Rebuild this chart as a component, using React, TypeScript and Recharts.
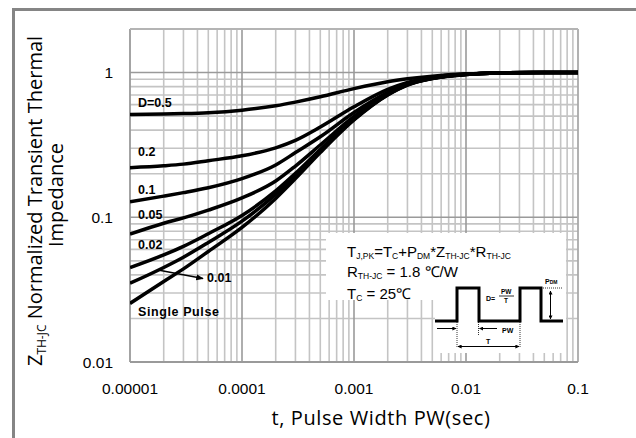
import React from 'react';
import { LineChart, Line, XAxis, YAxis, ReferenceLine } from 'recharts';

// ---------- data ----------
const tValues = [1e-5, 2e-5, 3e-5, 5e-5, 1e-4, 2e-4, 3e-4, 5e-4, 1e-3, 2e-3, 3e-3, 5e-3, 1e-2, 2e-2, 5e-2, 1e-1];
const singlePulse = [0.0254, 0.036, 0.044, 0.058, 0.085, 0.135, 0.185, 0.28, 0.47, 0.7, 0.82, 0.91, 0.97, 0.993, 1.0, 1.0];
const duty001 = [0.035, 0.045, 0.053, 0.067, 0.094, 0.144, 0.193, 0.287, 0.475, 0.703, 0.822, 0.911, 0.97, 0.993, 1.0, 1.0];
const duty002 = [0.0449, 0.055, 0.063, 0.077, 0.103, 0.152, 0.201, 0.294, 0.48, 0.706, 0.824, 0.912, 0.971, 0.993, 1.0, 1.0];
const duty005 = [0.0765, 0.091, 0.099, 0.112, 0.136, 0.178, 0.226, 0.316, 0.497, 0.715, 0.829, 0.915, 0.972, 0.993, 1.0, 1.0];
const duty01 = [0.128, 0.14, 0.148, 0.16, 0.185, 0.23, 0.28, 0.36, 0.53, 0.73, 0.838, 0.919, 0.973, 0.994, 1.0, 1.0];
const duty02 = [0.2203, 0.227, 0.233, 0.246, 0.266, 0.302, 0.34, 0.42, 0.58, 0.765, 0.856, 0.93, 0.977, 0.995, 1.0, 1.0];
const duty05 = [0.5127, 0.517, 0.5205, 0.528, 0.55, 0.59, 0.625, 0.68, 0.775, 0.865, 0.905, 0.945, 0.98, 0.995, 1.0, 1.0];

const xTicks = [1e-5, 1e-4, 1e-3, 1e-2, 1e-1];
const xTickLabels = ['0.00001', '0.0001', '0.001', '0.01', '0.1'];
const yTicks = [0.01, 0.1, 1];
const yTickLabels = ['0.01', '0.1', '1'];

const xMajorGrid = [1e-4, 1e-3, 1e-2];
const xMinorGrid = [
  2e-5, 3e-5, 4e-5, 5e-5, 6e-5, 7e-5, 8e-5, 9e-5,
  2e-4, 3e-4, 4e-4, 5e-4, 6e-4, 7e-4, 8e-4, 9e-4,
  2e-3, 3e-3, 4e-3, 5e-3, 6e-3, 7e-3, 8e-3, 9e-3,
  2e-2, 3e-2, 4e-2, 5e-2, 6e-2, 7e-2, 8e-2, 9e-2,
];
const yMajorGrid = [0.1, 1];
const yMinorGrid = [0.02, 0.03, 0.04, 0.05, 0.06, 0.07, 0.08, 0.09, 0.2, 0.3, 0.4, 0.5, 0.6, 0.7, 0.8, 0.9];

const xDomain = [1e-5, 0.1];
const yDomain = [0.01, 2];

const seriesKeys = ['single', 'd001', 'd002', 'd005', 'd01', 'd02', 'd05'];
const seriesValues = [singlePulse, duty001, duty002, duty005, duty01, duty02, duty05];

const chartData = tValues.map((t, i) => {
  const row: Record<string, number> = { t };
  seriesKeys.forEach((k, j) => {
    row[k] = seriesValues[j][i];
  });
  return row;
});

const labelFor = (v: number, ticks: number[], labels: string[]) => {
  let best = 0;
  for (let i = 0; i < ticks.length; i++) {
    if (Math.abs(Math.log10(ticks[i]) - Math.log10(v)) < Math.abs(Math.log10(ticks[best]) - Math.log10(v))) best = i;
  }
  return labels[best];
};

const MINOR = '#c4c4c4';
const MAJOR = '#9a9a9a';
const numFont = '"Liberation Sans", Arial, sans-serif';
const titleFont = '"Open Sans", sans-serif';

const Overlay = () => (
  <svg width={636} height={438} style={{ position: 'absolute', left: 0, top: 0, pointerEvents: 'none' }}>
    <defs>
      <marker id="ah" viewBox="0 0 10 10" refX="9" refY="5" markerWidth="4" markerHeight="4" orient="auto-start-reverse">
        <path d="M0,0 L10,5 L0,10 z" fill="#000" />
      </marker>
      <marker id="ahs" viewBox="0 0 10 10" refX="9" refY="5" markerWidth="5" markerHeight="5" orient="auto-start-reverse">
        <path d="M0,1 L10,5 L0,9 z" fill="#000" />
      </marker>
    </defs>
    {/* frame */}
    <rect x={12} y={8} width={624} height={3} fill="#858585" />
    <rect x={12} y={8} width={3} height={430} fill="#858585" />

    {/* axis titles */}
    <text x={381} y={425} textAnchor="middle" fontFamily={titleFont} fontSize={20} letterSpacing={0.6} fill="#000">
      t, Pulse Width PW(sec)
    </text>
    <text transform="translate(42,201) rotate(-90)" textAnchor="middle" fontFamily={titleFont} fontSize={20} fill="#000">
      Z<tspan fontSize={12} dy={4}>TH-JC</tspan>
      <tspan dy={-4}> Normalized Transient Thermal</tspan>
    </text>
    <text transform="translate(63,195) rotate(-90)" textAnchor="middle" fontFamily={titleFont} fontSize={20} fill="#000">
      Impedance
    </text>

    {/* curve labels */}
    <g fontFamily={numFont} fontWeight="bold" fontSize={12.5} fill="#000">
      <text x={138} y={107}>D=0.5</text>
      <text x={138} y={156}>0.2</text>
      <text x={138} y={194}>0.1</text>
      <text x={138} y={219}>0.05</text>
      <text x={138} y={249}>0.02</text>
      <text x={207} y={282}>0.01</text>
      <text x={138} y={316} letterSpacing={0.6}>Single Pulse</text>
    </g>
    <line x1={158} y1={270} x2={203} y2={278.5} stroke="#000" strokeWidth={1.5} markerEnd="url(#ahs)" />

    {/* annotation box */}
    <path d="M326,233 L566,233 L566,353 L435,353 L435,300 L326,300 Z" fill="#fff" />
    <g fontFamily={numFont} fill="#000">
      <text x={347} y={257} fontSize={15}>
        T<tspan fontSize={8.5} dy={2}>J,PK</tspan>
        <tspan dy={-2}>=T</tspan>
        <tspan fontSize={8.5} dy={2}>C</tspan>
        <tspan dy={-2}>+P</tspan>
        <tspan fontSize={8.5} dy={2}>DM</tspan>
        <tspan dy={-2}>*Z</tspan>
        <tspan fontSize={8.5} dy={2}>TH-JC</tspan>
        <tspan dy={-2}>*R</tspan>
        <tspan fontSize={8.5} dy={2}>TH-JC</tspan>
      </text>
      <text x={347} y={277} fontSize={15}>
        R<tspan fontSize={8.5} dy={2}>TH-JC</tspan>
        <tspan dy={-2}>{'  = 1.8 \u2103/W'}</tspan>
      </text>
      <text x={347} y={299} fontSize={15}>
        T<tspan fontSize={8.5} dy={2}>C</tspan>
        <tspan dy={-2}>{' = 25\u2103'}</tspan>
      </text>
    </g>
    {/* pulse diagram */}
    <polyline
      points="435,321 457,321 457,288 479,288 479,321 520,321 520,288 541,288 541,321 563,321"
      fill="none" stroke="#000" strokeWidth={3} strokeLinejoin="miter"
    />
    <line x1={541} y1={288} x2={562} y2={288} stroke="#000" strokeWidth={0.8} strokeDasharray="1,1" />
    <line x1={550.5} y1={291} x2={550.5} y2={319} stroke="#000" strokeWidth={1} markerStart="url(#ah)" markerEnd="url(#ah)" />
    <g fontFamily={numFont} fontWeight="bold" fill="#000">
      <text x={545} y={284} fontSize={7}>P<tspan fontSize={5}>DM</tspan></text>
      <text x={486} y={301} fontSize={7}>D=</text>
      <text x={501} y={294} fontSize={6.5}>PW</text>
      <text x={504} y={303} fontSize={6.5}>T</text>
      <text x={502} y={333} fontSize={7}>PW</text>
      <text x={486} y={344} fontSize={7}>T</text>
    </g>
    <line x1={499} y1={296} x2={514} y2={296} stroke="#000" strokeWidth={0.8} />
    <line x1={437} y1={328.5} x2={456} y2={328.5} stroke="#000" strokeWidth={1} markerEnd="url(#ah)" />
    <line x1={497} y1={328.5} x2={479.5} y2={328.5} stroke="#000" strokeWidth={1} markerEnd="url(#ah)" />
    <line x1={457} y1={322} x2={457} y2={348} stroke="#000" strokeWidth={0.8} strokeDasharray="1,1" />
    <line x1={478.5} y1={322} x2={478.5} y2={335} stroke="#000" strokeWidth={0.8} strokeDasharray="1,1" />
    <line x1={520} y1={322} x2={520} y2={348} stroke="#000" strokeWidth={0.8} strokeDasharray="1,1" />
    <line x1={458} y1={346.5} x2={519} y2={346.5} stroke="#000" strokeWidth={1} markerStart="url(#ah)" markerEnd="url(#ah)" />
  </svg>
);

export default function App() {
  return (
    <div style={{ position: 'absolute', left: 0, top: 0, width: 636, height: 438, background: '#fff' }}>
      <LineChart width={636} height={438} data={chartData} margin={{ top: 29, right: 58, bottom: 36, left: 70 }}>
        <XAxis
          dataKey="t"
          type="number"
          scale="log"
          domain={xDomain}
          allowDataOverflow
          ticks={xTicks}
          tickFormatter={(v: number) => labelFor(v, xTicks, xTickLabels)}
          axisLine={false}
          tickLine={false}
          tickSize={0}
          tickMargin={21}
          height={40}
          interval={0}
          tick={{ fill: '#000', fontSize: 15.5, fontFamily: numFont }}
        />
        <YAxis
          type="number"
          scale="log"
          domain={yDomain}
          allowDataOverflow
          ticks={yTicks}
          tickFormatter={(v: number) => labelFor(v, yTicks, yTickLabels)}
          axisLine={false}
          tickLine={false}
          tickSize={0}
          tickMargin={17}
          width={60}
          interval={0}
          tick={{ fill: '#000', fontSize: 15.5, fontFamily: numFont }}
        />
        {xMinorGrid.map((v) => (
          <ReferenceLine key={'xm' + v} x={v} stroke={MINOR} strokeWidth={1.6} />
        ))}
        {yMinorGrid.map((v) => (
          <ReferenceLine key={'ym' + v} y={v} stroke={MINOR} strokeWidth={1.6} />
        ))}
        {xMajorGrid.map((v) => (
          <ReferenceLine key={'xM' + v} x={v} stroke={MAJOR} strokeWidth={1.6} />
        ))}
        {yMajorGrid.map((v) => (
          <ReferenceLine key={'yM' + v} y={v} stroke={MAJOR} strokeWidth={1.6} />
        ))}
        <ReferenceLine x={xDomain[0]} stroke={MAJOR} strokeWidth={1.8} />
        <ReferenceLine x={xDomain[1]} stroke="#aaaaaa" strokeWidth={1.8} />
        <ReferenceLine y={yDomain[0]} stroke={MAJOR} strokeWidth={1.8} />
        <ReferenceLine y={yDomain[1]} stroke="#b4b4b4" strokeWidth={1.8} />
        {seriesKeys.map((k) => (
          <Line
            key={k}
            dataKey={k}
            type="monotone"
            stroke="#000"
            strokeWidth={3.5}
            dot={false}
            activeDot={false}
            isAnimationActive={false}
          />
        ))}
      </LineChart>
      <Overlay />
    </div>
  );
}
